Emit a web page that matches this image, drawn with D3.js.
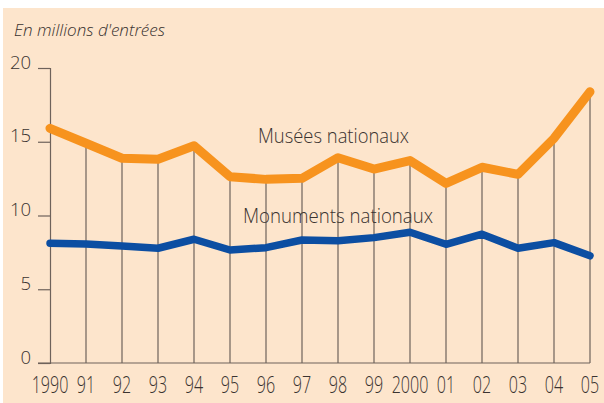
<!DOCTYPE html>
<html>
<head>
<meta charset="utf-8">
<script src="https://cdn.jsdelivr.net/npm/d3@7"></script>
<style>
  body { margin: 0; background: #fff; }
  svg text { font-family: "Open Sans", sans-serif; fill: #3a3330; }
</style>
</head>
<body>
<div id="chart"></div>
<script>
// Data
const years = ['1990', '91', '92', '93', '94', '95', '96', '97', '98', '99', '2000', '01', '02', '03', '04', '05'];
const musees = [15.91, 14.9, 13.88, 13.81, 14.73, 12.63, 12.45, 12.52, 13.92, 13.15, 13.72, 12.18, 13.27, 12.79, 15.23, 18.39];
const monuments = [8.12, 8.07, 7.93, 7.78, 8.39, 7.66, 7.82, 8.34, 8.29, 8.5, 8.86, 8.05, 8.73, 7.78, 8.16, 7.27];
const yTicks = [0, 5, 10, 15, 20];

const W = 604, H = 403;

const svg = d3.select('#chart')
    .append('svg')
    .attr('width', W)
    .attr('height', H);

// peach background
svg.append('rect')
    .attr('x', 3).attr('y', 8)
    .attr('width', W - 3).attr('height', H - 8)
    .attr('fill', '#fde5cc');

const x = d3.scalePoint()
    .domain(years)
    .range([50, 590]);

const y = d3.scaleLinear()
    .domain([0, 20])
    .range([363, 68]);

const axisColor = '#6e625b';

// drop lines from the baseline up to the orange series
svg.append('g')
    .selectAll('line')
    .data(years.slice(1))
    .enter()
    .append('line')
    .attr('x1', d => x(d)).attr('x2', d => x(d))
    .attr('y1', y(0))
    .attr('y2', (d, i) => y(musees[i + 1]))
    .attr('stroke', axisColor)
    .attr('stroke-width', 1.2);

// y axis
const yAxis = d3.axisLeft(y)
    .tickValues(yTicks)
    .tickSize(12)
    .tickPadding(7)
    .tickFormat(d3.format('d'));

const yG = svg.append('g')
    .attr('transform', `translate(${x('1990')},0)`)
    .call(yAxis);
yG.select('.domain').attr('stroke', axisColor).attr('stroke-width', 1.2);
yG.selectAll('.tick line').attr('stroke', axisColor).attr('stroke-width', 1.2);
yG.selectAll('.tick text')
    .attr('dy', '0')
    .attr('x', -19)
    .style('font-size', '18.5px')
    .style('font-weight', 300)
    .attr('fill', '#3a3330');

// baseline
svg.append('line')
    .attr('x1', 38).attr('x2', x('05'))
    .attr('y1', y(0)).attr('y2', y(0))
    .attr('stroke', axisColor)
    .attr('stroke-width', 1.2);

// x labels (narrow)
svg.append('g')
    .selectAll('text')
    .data(years)
    .enter()
    .append('text')
    .attr('transform', d => `translate(${x(d)},393) scale(0.7,1)`)
    .attr('text-anchor', 'middle')
    .style('font-size', '23px')
    .style('font-weight', 300)
    .text(d => d);

// lines
const line = d3.line()
    .x((d, i) => x(years[i]))
    .y(d => y(d));

svg.append('path')
    .datum(monuments)
    .attr('d', line)
    .attr('fill', 'none')
    .attr('stroke', '#0c4ea2')
    .attr('stroke-width', 7.5)
    .attr('stroke-linecap', 'round')
    .attr('stroke-linejoin', 'round');

svg.append('path')
    .datum(musees)
    .attr('d', line)
    .attr('fill', 'none')
    .attr('stroke', '#f7931e')
    .attr('stroke-width', 9)
    .attr('stroke-linecap', 'round')
    .attr('stroke-linejoin', 'round');

// series labels
svg.append('text')
    .attr('x', 258).attr('y', 143)
    .attr('textLength', 151)
    .attr('lengthAdjust', 'spacingAndGlyphs')
    .style('font-size', '19.5px')
    .style('font-weight', 300)
    .text('Musées nationaux');

svg.append('text')
    .attr('x', 243).attr('y', 223)
    .attr('textLength', 190)
    .attr('lengthAdjust', 'spacingAndGlyphs')
    .style('font-size', '19.5px')
    .style('font-weight', 300)
    .text('Monuments nationaux');

// unit title
svg.append('text')
    .attr('x', 14).attr('y', 36)
    .attr('textLength', 151)
    .attr('lengthAdjust', 'spacingAndGlyphs')
    .style('font-size', '15.5px')
    .style('font-style', 'italic')
    .style('font-weight', 300)
    .text("En millions d'entrées");
</script>
</body>
</html>
